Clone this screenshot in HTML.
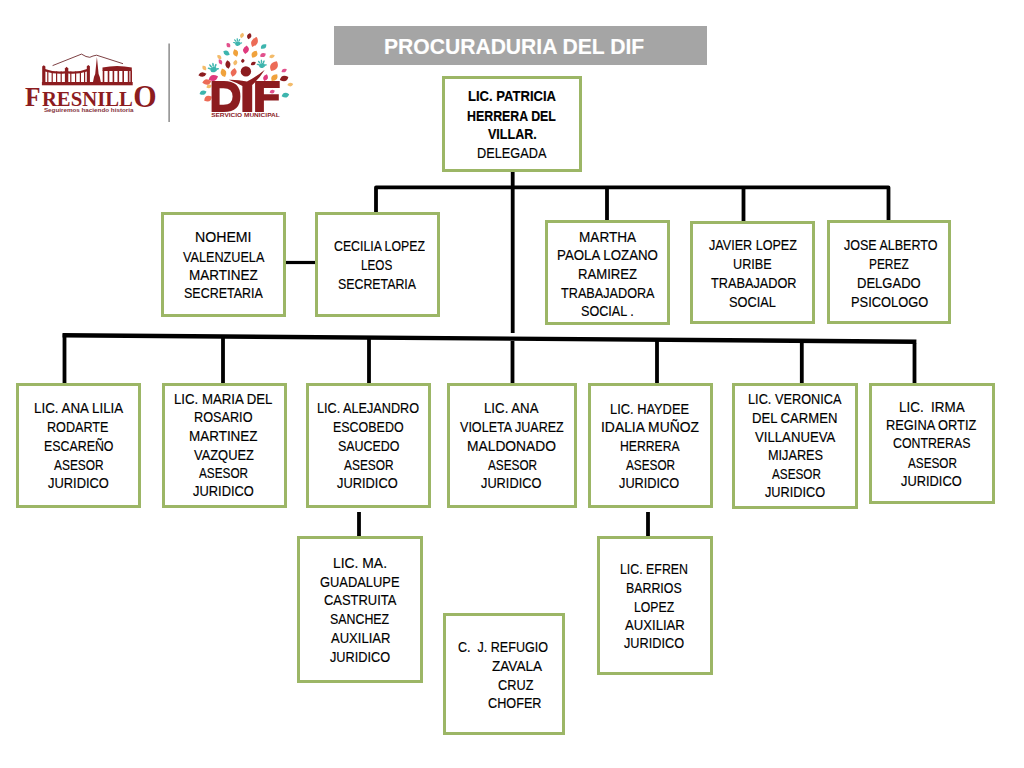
<!DOCTYPE html>
<html><head><meta charset="utf-8"><style>
html,body{margin:0;padding:0;background:#fff;}
body{width:1024px;height:768px;position:relative;overflow:hidden;font-family:"Liberation Sans",sans-serif;}
.b{position:absolute;box-sizing:border-box;border:3px solid #9cb666;background:#fff;}
.t{position:absolute;white-space:pre;line-height:20px;font-size:13.8px;color:#000;transform-origin:0 0;-webkit-text-stroke:0.15px currentColor;}
.bd{font-weight:700;}
</style></head><body>

<svg width="1024" height="768" style="position:absolute;left:0;top:0">
<g stroke="#000" stroke-width="3.8" fill="none" stroke-linecap="butt" stroke-linejoin="round">
<path d="M512.7 171 V333 M512.5 341 V383"/>
<path d="M376 212 V187.4 H888.5 V221"/>
<path d="M607 187 V221 M743.5 187 V221"/>
<path d="M286 262.5 H315" stroke-width="3.2"/>
<path d="M62.6 335.3 L916.4 341.7" stroke-width="4.4"/>
<path d="M64.5 383 V333.5 M914.5 343.5 V384"/>
<path d="M223 336.5 V383 M369 337.5 V383 M657 339.5 V384 M801.8 340.5 V383"/>
<path d="M359 512 V537 M648 512 V537"/>
</g>
</svg>

<svg width="1024" height="768" style="position:absolute;left:0;top:0">
<g fill="#8c1c1f">
<path d="M52.6 65.6 L81.5 54.1 L86 56.5 L89.8 57.3 L93 56 L96.6 55.2 L123 63.7" fill="none" stroke="#6e2a2e" stroke-width="0.9"/>
<rect x="41.9" y="82" width="90.8" height="3.3"/>
<path d="M42.2 82 V66.5 L43.8 65.3 L45.4 66.5 V82 Z"/>
<path d="M64.9 82 V68.5 L66.6 66.8 L68.3 68.5 V82 Z"/>
<path d="M86.8 82 V66.3 L88.3 65 L89.9 66.3 V82 Z"/>
<path d="M45 69 Q55 72.5 65 71.2 L65 73.6 Q55 74.5 45 71.6 Z"/>
<path d="M68 71.2 Q78 72.5 87 69 L87 71.6 Q78 74.5 68 73.6 Z"/>
<rect x="47.2" y="71.5" width="1.2" height="11"/>
<rect x="51.6" y="71.5" width="1.2" height="11"/>
<rect x="56.0" y="71.5" width="1.2" height="11"/>
<rect x="60.6" y="71.5" width="1.2" height="11"/>
<rect x="70.2" y="71.5" width="1.2" height="11"/>
<rect x="75.0" y="71.5" width="1.2" height="11"/>
<rect x="79.8" y="71.5" width="1.2" height="11"/>
<rect x="84.0" y="71.5" width="1.2" height="11"/>
<path d="M96.9 57 L98.6 74 L99.8 77 L100.8 82 H93 L94 77 L95.2 74 Z"/>
<path d="M102.5 71 V67.5 Q117 64.5 131.8 67.5 V71 Z"/>
<rect x="102.7" y="70.5" width="1.6" height="12"/>
<rect x="107.7" y="70.5" width="1.6" height="12"/>
<rect x="112.6" y="70.5" width="1.6" height="12"/>
<rect x="117.5" y="70.5" width="1.6" height="12"/>
<rect x="122.4" y="70.5" width="1.6" height="12"/>
<rect x="127.8" y="70.5" width="1.6" height="12"/>
<rect x="130.4" y="70.5" width="1.6" height="12"/>
</g>
<g fill="#8c1c1f" font-family="Liberation Serif" font-weight="700">
<text x="25" y="106.3" font-size="28" textLength="15.5" lengthAdjust="spacingAndGlyphs">F</text>
<text x="41.9" y="106.3" font-size="21.5" textLength="91" lengthAdjust="spacingAndGlyphs">RESNILL</text>
<text x="133.3" y="107.3" font-size="31" textLength="23.4" lengthAdjust="spacingAndGlyphs">O</text>
</g>
<text x="43.9" y="112" font-family="Liberation Sans" font-weight="700" font-size="5.8" fill="#84323a" textLength="89.6" lengthAdjust="spacingAndGlyphs">Seguiremos haciendo historia</text>
<rect x="168.5" y="43.5" width="1.2" height="78.5" fill="#6f6f6f"/>
<path d="M0 -2.81 Q3.84 -0.42 0 2.81 Q-3.84 0.42 0 -2.81 Z" transform="translate(242 35.5) rotate(20)" fill="#f3bb6a"/>
<path d="M0 -3.24 Q4.32 -0.49 0 3.24 Q-4.32 0.49 0 -3.24 Z" transform="translate(249.2 36.2) rotate(15)" fill="#8c1c1f"/>
<path d="M0 -5.40 Q6.24 -0.81 0 5.40 Q-6.24 0.81 0 -5.40 Z" transform="translate(254.5 42) rotate(25)" fill="#ec6b56"/>
<path d="M0 -2.70 Q3.84 -0.41 0 2.70 Q-3.84 0.41 0 -2.70 Z" transform="translate(228.4 45.2) rotate(-40)" fill="#e2508c"/>
<path d="M0 -4.32 Q5.76 -0.65 0 4.32 Q-5.76 0.65 0 -4.32 Z" transform="translate(246 49.7) rotate(10)" fill="#df3a7d"/>
<path d="M0 -3.46 Q4.56 -0.52 0 3.46 Q-4.56 0.52 0 -3.46 Z" transform="translate(263.6 46.5) rotate(50)" fill="#3db5ae"/>
<path d="M0 -3.67 Q4.56 -0.55 0 3.67 Q-4.56 0.55 0 -3.67 Z" transform="translate(226.5 53) rotate(-60)" fill="#3db5ae"/>
<path d="M0 -3.89 Q5.28 -0.58 0 3.89 Q-5.28 0.58 0 -3.89 Z" transform="translate(235.6 53) rotate(-20)" fill="#f0a23c"/>
<path d="M0 -4.10 Q5.52 -0.62 0 4.10 Q-5.52 0.62 0 -4.10 Z" transform="translate(254.5 54.3) rotate(30)" fill="#f0a23c"/>
<path d="M0 -3.24 Q4.32 -0.49 0 3.24 Q-4.32 0.49 0 -3.24 Z" transform="translate(262.9 55) rotate(60)" fill="#e2508c"/>
<path d="M0 -3.02 Q3.84 -0.45 0 3.02 Q-3.84 0.45 0 -3.02 Z" transform="translate(272 56.3) rotate(70)" fill="#f3bb6a"/>
<path d="M0 -2.70 Q3.60 -0.41 0 2.70 Q-3.60 0.41 0 -2.70 Z" transform="translate(219.3 57) rotate(-50)" fill="#f3bb6a"/>
<path d="M0 -3.02 Q3.60 -0.45 0 3.02 Q-3.60 0.45 0 -3.02 Z" transform="translate(220.4 61.8) rotate(-30)" fill="#e2508c"/>
<path d="M0 -4.32 Q5.28 -0.65 0 4.32 Q-5.28 0.65 0 -4.32 Z" transform="translate(227.9 64.4) rotate(-10)" fill="#8c1c1f"/>
<path d="M0 -3.02 Q4.08 -0.45 0 3.02 Q-4.08 0.45 0 -3.02 Z" transform="translate(235.3 62.6) rotate(10)" fill="#f3bb6a"/>
<path d="M0 -2.16 Q3.60 -0.32 0 2.16 Q-3.60 0.32 0 -2.16 Z" transform="translate(242.8 60.9) rotate(0)" fill="#8c1c1f"/>
<path d="M0 -2.81 Q3.60 -0.42 0 2.81 Q-3.60 0.42 0 -2.81 Z" transform="translate(253.3 63.5) rotate(60)" fill="#8c1c1f"/>
<path d="M0 -5.62 Q7.20 -0.84 0 5.62 Q-7.20 0.84 0 -5.62 Z" transform="translate(274 66.2) rotate(30)" fill="#ec6b56"/>
<path d="M0 -3.02 Q3.60 -0.45 0 3.02 Q-3.60 0.45 0 -3.02 Z" transform="translate(284.1 70.5) rotate(60)" fill="#e2508c"/>
<path d="M0 -2.81 Q3.84 -0.42 0 2.81 Q-3.84 0.42 0 -2.81 Z" transform="translate(204.3 68) rotate(-40)" fill="#f3bb6a"/>
<path d="M0 -4.54 Q5.76 -0.68 0 4.54 Q-5.76 0.68 0 -4.54 Z" transform="translate(223.5 72.7) rotate(-20)" fill="#f0a23c"/>
<path d="M0 -4.54 Q5.76 -0.68 0 4.54 Q-5.76 0.68 0 -4.54 Z" transform="translate(233.6 72.3) rotate(15)" fill="#ec6b56"/>
<path d="M0 -4.10 Q4.80 -0.62 0 4.10 Q-4.80 0.62 0 -4.10 Z" transform="translate(202.4 74.5) rotate(80)" fill="#8c1c1f"/>
<path d="M0 -4.97 Q6.24 -0.75 0 4.97 Q-6.24 0.75 0 -4.97 Z" transform="translate(213.3 78) rotate(70)" fill="#df3a7d"/>
<path d="M0 -4.54 Q5.76 -0.68 0 4.54 Q-5.76 0.68 0 -4.54 Z" transform="translate(206.8 82) rotate(80)" fill="#ec6b56"/>
<path d="M0 -3.67 Q4.80 -0.55 0 3.67 Q-4.80 0.55 0 -3.67 Z" transform="translate(265.6 77.6) rotate(20)" fill="#df3a7d"/>
<path d="M0 -4.32 Q5.76 -0.65 0 4.32 Q-5.76 0.65 0 -4.32 Z" transform="translate(274.4 77.6) rotate(40)" fill="#f0a23c"/>
<path d="M0 -4.54 Q5.76 -0.68 0 4.54 Q-5.76 0.68 0 -4.54 Z" transform="translate(284.1 78.5) rotate(70)" fill="#8c1c1f"/>
<path d="M0 -3.02 Q3.84 -0.45 0 3.02 Q-3.84 0.45 0 -3.02 Z" transform="translate(290.3 84.6) rotate(80)" fill="#f3bb6a"/>
<path d="M0 -2.81 Q3.84 -0.42 0 2.81 Q-3.84 0.42 0 -2.81 Z" transform="translate(209 86.4) rotate(60)" fill="#f3bb6a"/>
<path d="M0 -3.67 Q4.32 -0.55 0 3.67 Q-4.32 0.55 0 -3.67 Z" transform="translate(203 92.7) rotate(70)" fill="#3db5ae"/>
<path d="M0 -4.32 Q5.76 -0.65 0 4.32 Q-5.76 0.65 0 -4.32 Z" transform="translate(208 98.7) rotate(60)" fill="#ec6b56"/>
<path d="M0 -3.89 Q4.80 -0.58 0 3.89 Q-4.80 0.58 0 -3.89 Z" transform="translate(285.4 95.2) rotate(75)" fill="#3db5ae"/>
<path d="M0 -2.81 Q3.84 -0.42 0 2.81 Q-3.84 0.42 0 -2.81 Z" transform="translate(272.2 91.6) rotate(70)" fill="#e2508c"/>
<g transform="translate(237.5 42.6) scale(0.9) rotate(-15)" fill="#3db5ae"><ellipse cx="0" cy="1.2" rx="3" ry="2.4"/><ellipse cx="0" cy="-2.2" rx="0.75" ry="1.60" transform="rotate(-60 0 1.2) translate(0 -0.60)"/><ellipse cx="0" cy="-2.2" rx="0.75" ry="1.90" transform="rotate(-25 0 1.2) translate(0 -0.90)"/><ellipse cx="0" cy="-2.2" rx="0.75" ry="1.90" transform="rotate(8 0 1.2) translate(0 -0.90)"/><ellipse cx="0" cy="-2.2" rx="0.75" ry="1.65" transform="rotate(40 0 1.2) translate(0 -0.65)"/><ellipse cx="0" cy="-2.2" rx="0.75" ry="1.30" transform="rotate(95 0 1.2) translate(0 -0.30)"/></g>
<g transform="translate(213.3 68.3) scale(1.1) rotate(-15)" fill="#3db5ae"><ellipse cx="0" cy="1.2" rx="3" ry="2.4"/><ellipse cx="0" cy="-2.2" rx="0.75" ry="1.60" transform="rotate(-60 0 1.2) translate(0 -0.60)"/><ellipse cx="0" cy="-2.2" rx="0.75" ry="1.90" transform="rotate(-25 0 1.2) translate(0 -0.90)"/><ellipse cx="0" cy="-2.2" rx="0.75" ry="1.90" transform="rotate(8 0 1.2) translate(0 -0.90)"/><ellipse cx="0" cy="-2.2" rx="0.75" ry="1.65" transform="rotate(40 0 1.2) translate(0 -0.65)"/><ellipse cx="0" cy="-2.2" rx="0.75" ry="1.30" transform="rotate(95 0 1.2) translate(0 -0.30)"/></g>
<g transform="translate(261.7 64.4) scale(1.0) rotate(-15)" fill="#3db5ae"><ellipse cx="0" cy="1.2" rx="3" ry="2.4"/><ellipse cx="0" cy="-2.2" rx="0.75" ry="1.60" transform="rotate(-60 0 1.2) translate(0 -0.60)"/><ellipse cx="0" cy="-2.2" rx="0.75" ry="1.90" transform="rotate(-25 0 1.2) translate(0 -0.90)"/><ellipse cx="0" cy="-2.2" rx="0.75" ry="1.90" transform="rotate(8 0 1.2) translate(0 -0.90)"/><ellipse cx="0" cy="-2.2" rx="0.75" ry="1.65" transform="rotate(40 0 1.2) translate(0 -0.65)"/><ellipse cx="0" cy="-2.2" rx="0.75" ry="1.30" transform="rotate(95 0 1.2) translate(0 -0.30)"/></g>
<g fill="#8c1c1f">
<path fill-rule="evenodd" d="M211.6 81.1 H224 Q240.4 81.1 240.4 96.5 Q240.4 111.9 224 111.9 H211.6 Z M219.6 88.2 V104.8 H223.5 Q232.6 104.8 232.6 96.5 Q232.6 88.2 223.5 88.2 Z"/>
<path d="M242.4 111.9 V86 Q236 82.5 228.7 79.8 Q238 79.6 247 81.6 Q256 77 264.8 69.7 Q259 79 252.2 85 V111.9 Z"/>
<circle cx="245.9" cy="71.4" r="5.2"/>
<path d="M255.1 111.9 V81.1 H279.7 V88.1 H263.9 V94.3 H278.8 V100.4 H263.9 V111.9 Z"/>
</g>
<text x="211.2" y="116.8" font-family="Liberation Sans" font-weight="700" font-size="4.8" fill="#8c1c1f" textLength="68.5" lengthAdjust="spacingAndGlyphs">SERVICIO MUNICIPAL</text>
</svg>
<div style="position:absolute;left:334px;top:26px;width:373px;height:39px;background:#a5a5a5"></div>
<div class="t bd" style="font-size:21.5px;color:#fff;left:384.02px;top:36.50px;transform:scaleX(0.9810)">PROCURADURIA DEL DIF</div>
<div class="b" style="left:442px;top:76px;width:140px;height:96px"></div>
<div class="b" style="left:161px;top:212px;width:125px;height:105px"></div>
<div class="b" style="left:315px;top:212px;width:125px;height:105px"></div>
<div class="b" style="left:545px;top:220px;width:125px;height:105px"></div>
<div class="b" style="left:690px;top:221px;width:125px;height:103px"></div>
<div class="b" style="left:827px;top:220px;width:124px;height:104px"></div>
<div class="b" style="left:16px;top:383px;width:125px;height:125px"></div>
<div class="b" style="left:162px;top:383px;width:125px;height:125px"></div>
<div class="b" style="left:306px;top:383px;width:125px;height:125px"></div>
<div class="b" style="left:447px;top:383px;width:130px;height:125px"></div>
<div class="b" style="left:588px;top:383px;width:125px;height:125px"></div>
<div class="b" style="left:732px;top:383px;width:126px;height:126px"></div>
<div class="b" style="left:869px;top:383px;width:126px;height:121px"></div>
<div class="b" style="left:297px;top:536px;width:126px;height:147px"></div>
<div class="b" style="left:597px;top:536px;width:116px;height:139px"></div>
<div class="b" style="left:443px;top:613px;width:122px;height:122px"></div>
<div class="t bd" style="left:467.65px;top:87.30px;transform:scaleX(0.9467)">LIC. PATRICIA</div>
<div class="t bd" style="left:466.90px;top:106.60px;transform:scaleX(0.8969)">HERRERA DEL</div>
<div class="t bd" style="left:488.30px;top:125.40px;transform:scaleX(0.9075)">VILLAR.</div>
<div class="t" style="left:476.88px;top:144.00px;transform:scaleX(0.9243)">DELEGADA</div>
<div class="t" style="left:194.98px;top:228.40px;transform:scaleX(1.0245)">NOHEMI</div>
<div class="t" style="left:182.80px;top:247.50px;transform:scaleX(0.9169)">VALENZUELA</div>
<div class="t" style="left:188.72px;top:266.20px;transform:scaleX(0.9797)">MARTINEZ</div>
<div class="t" style="left:184.10px;top:284.20px;transform:scaleX(0.9047)">SECRETARIA</div>
<div class="t" style="left:333.51px;top:237.30px;transform:scaleX(0.8921)">CECILIA LOPEZ</div>
<div class="t" style="left:361.15px;top:256.10px;transform:scaleX(0.8486)">LEOS</div>
<div class="t" style="left:338.10px;top:274.80px;transform:scaleX(0.8953)">SECRETARIA</div>
<div class="t" style="left:578.71px;top:227.60px;transform:scaleX(0.9860)">MARTHA</div>
<div class="t" style="left:556.84px;top:246.30px;transform:scaleX(0.9631)">PAOLA LOZANO</div>
<div class="t" style="left:577.65px;top:265.00px;transform:scaleX(0.9525)">RAMIREZ</div>
<div class="t" style="left:561.00px;top:283.70px;transform:scaleX(0.9176)">TRABAJADORA</div>
<div class="t" style="left:581.29px;top:301.60px;transform:scaleX(0.9143)">SOCIAL .</div>
<div class="t" style="left:708.59px;top:236.20px;transform:scaleX(0.9126)">JAVIER LOPEZ</div>
<div class="t" style="left:733.08px;top:255.40px;transform:scaleX(0.9171)">URIBE</div>
<div class="t" style="left:710.60px;top:274.00px;transform:scaleX(0.9217)">TRABAJADOR</div>
<div class="t" style="left:728.87px;top:292.60px;transform:scaleX(0.9265)">SOCIAL</div>
<div class="t" style="left:843.99px;top:236.20px;transform:scaleX(0.9069)">JOSE ALBERTO</div>
<div class="t" style="left:868.64px;top:255.40px;transform:scaleX(0.8622)">PEREZ</div>
<div class="t" style="left:856.76px;top:274.00px;transform:scaleX(0.9439)">DELGADO</div>
<div class="t" style="left:850.57px;top:292.60px;transform:scaleX(0.9321)">PSICOLOGO</div>
<div class="t" style="left:33.53px;top:399.30px;transform:scaleX(0.9692)">LIC. ANA LILIA</div>
<div class="t" style="left:47.48px;top:417.90px;transform:scaleX(0.9152)">RODARTE</div>
<div class="t" style="left:43.90px;top:436.60px;transform:scaleX(0.8974)">ESCAREÑO</div>
<div class="t" style="left:54.00px;top:455.50px;transform:scaleX(0.8632)">ASESOR</div>
<div class="t" style="left:48.07px;top:473.60px;transform:scaleX(0.9344)">JURIDICO</div>
<div class="t" style="left:173.84px;top:389.50px;transform:scaleX(0.9584)">LIC. MARIA DEL</div>
<div class="t" style="left:194.18px;top:408.20px;transform:scaleX(0.9194)">ROSARIO</div>
<div class="t" style="left:189.42px;top:427.10px;transform:scaleX(0.9754)">MARTINEZ</div>
<div class="t" style="left:193.70px;top:445.70px;transform:scaleX(0.9344)">VAZQUEZ</div>
<div class="t" style="left:199.30px;top:463.80px;transform:scaleX(0.8544)">ASESOR</div>
<div class="t" style="left:192.77px;top:481.90px;transform:scaleX(0.9344)">JURIDICO</div>
<div class="t" style="left:317.18px;top:399.30px;transform:scaleX(0.9182)">LIC. ALEJANDRO</div>
<div class="t" style="left:333.10px;top:417.90px;transform:scaleX(0.9026)">ESCOBEDO</div>
<div class="t" style="left:337.50px;top:436.60px;transform:scaleX(0.9015)">SAUCEDO</div>
<div class="t" style="left:344.00px;top:455.50px;transform:scaleX(0.8632)">ASESOR</div>
<div class="t" style="left:337.47px;top:473.60px;transform:scaleX(0.9313)">JURIDICO</div>
<div class="t" style="left:484.04px;top:399.30px;transform:scaleX(0.9607)">LIC. ANA</div>
<div class="t" style="left:460.00px;top:417.90px;transform:scaleX(0.9105)">VIOLETA JUAREZ</div>
<div class="t" style="left:467.40px;top:436.60px;transform:scaleX(1.0011)">MALDONADO</div>
<div class="t" style="left:487.90px;top:455.50px;transform:scaleX(0.8544)">ASESOR</div>
<div class="t" style="left:481.37px;top:473.60px;transform:scaleX(0.9266)">JURIDICO</div>
<div class="t" style="left:610.27px;top:399.80px;transform:scaleX(0.9313)">LIC. HAYDEE</div>
<div class="t" style="left:600.69px;top:418.40px;transform:scaleX(1.0062)">IDALIA MUÑOZ</div>
<div class="t" style="left:620.32px;top:437.00px;transform:scaleX(0.8848)">HERRERA</div>
<div class="t" style="left:625.90px;top:455.60px;transform:scaleX(0.8544)">ASESOR</div>
<div class="t" style="left:619.48px;top:474.10px;transform:scaleX(0.9250)">JURIDICO</div>
<div class="t" style="left:748.28px;top:390.10px;transform:scaleX(0.9240)">LIC. VERONICA</div>
<div class="t" style="left:752.15px;top:408.70px;transform:scaleX(0.9489)">DEL CARMEN</div>
<div class="t" style="left:755.30px;top:427.60px;transform:scaleX(0.9548)">VILLANUEVA</div>
<div class="t" style="left:767.78px;top:445.70px;transform:scaleX(0.9207)">MIJARES</div>
<div class="t" style="left:771.50px;top:464.60px;transform:scaleX(0.8509)">ASESOR</div>
<div class="t" style="left:764.98px;top:483.30px;transform:scaleX(0.9234)">JURIDICO</div>
<div class="t" style="left:898.73px;top:397.60px;transform:scaleX(0.9727)">LIC.  IRMA</div>
<div class="t" style="left:886.07px;top:416.20px;transform:scaleX(0.9302)">REGINA ORTIZ</div>
<div class="t" style="left:893.41px;top:434.40px;transform:scaleX(0.8941)">CONTRERAS</div>
<div class="t" style="left:907.70px;top:453.50px;transform:scaleX(0.8509)">ASESOR</div>
<div class="t" style="left:900.57px;top:471.70px;transform:scaleX(0.9313)">JURIDICO</div>
<div class="t" style="left:332.89px;top:553.90px;transform:scaleX(1.0059)">LIC. MA.</div>
<div class="t" style="left:319.97px;top:572.60px;transform:scaleX(0.9345)">GUADALUPE</div>
<div class="t" style="left:323.66px;top:591.00px;transform:scaleX(0.9382)">CASTRUITA</div>
<div class="t" style="left:330.10px;top:609.90px;transform:scaleX(0.8969)">SANCHEZ</div>
<div class="t" style="left:331.00px;top:628.90px;transform:scaleX(0.9452)">AUXILIAR</div>
<div class="t" style="left:329.58px;top:647.50px;transform:scaleX(0.9234)">JURIDICO</div>
<div class="t" style="left:620.20px;top:560.40px;transform:scaleX(0.8959)">LIC. EFREN</div>
<div class="t" style="left:626.30px;top:578.90px;transform:scaleX(0.8967)">BARRIOS</div>
<div class="t" style="left:634.21px;top:597.70px;transform:scaleX(0.8886)">LOPEZ</div>
<div class="t" style="left:624.80px;top:616.30px;transform:scaleX(0.9516)">AUXILIAR</div>
<div class="t" style="left:623.88px;top:634.30px;transform:scaleX(0.9219)">JURIDICO</div>
<div class="t" style="left:457.99px;top:637.60px;transform:scaleX(0.9103)">C.  J. REFUGIO</div>
<div class="t" style="left:491.50px;top:657.10px;transform:scaleX(0.9843)">ZAVALA</div>
<div class="t" style="left:498.38px;top:675.60px;transform:scaleX(0.9243)">CRUZ</div>
<div class="t" style="left:487.68px;top:694.20px;transform:scaleX(0.9179)">CHOFER</div>
</body></html>
